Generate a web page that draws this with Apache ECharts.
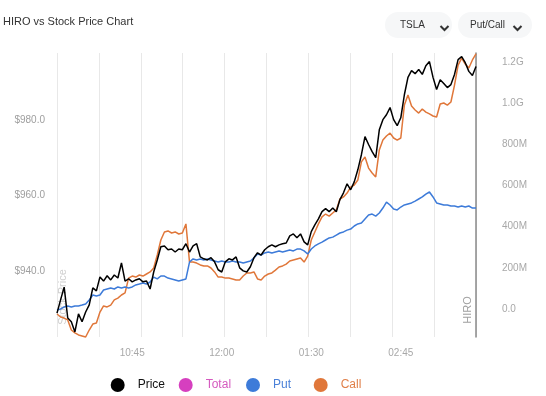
<!DOCTYPE html>
<html><head><meta charset="utf-8">
<script src="https://cdn.jsdelivr.net/npm/echarts@6/dist/echarts.min.js"></script>
<style>html,body{margin:0;padding:0;background:#fff}#c{width:546px;height:396px}</style>
</head><body><div id="c"></div>
<script>
// ---- data ----
const priceData = [928.8, 932.3, 935.7, 927.5, 926.5, 923.8, 928.6, 926.5, 929.1, 931.0,
935.5, 934.7, 938.4, 937.3, 938.7, 937.6, 938.9, 938.1, 942.1, 937.3,
937.9, 937.1, 937.6, 937.9, 937.1, 937.3, 935.2, 939.7, 942.9, 946.4,
946.6, 945.6, 945.8, 945.0, 945.8, 945.6, 947.2, 945.0, 946.6, 947.2,
943.7, 943.2, 942.9, 943.5, 942.4, 940.3, 939.7, 942.4, 943.2, 942.9,
943.7, 940.8, 940.0, 939.7, 941.1, 943.5, 944.8, 944.2, 945.6, 946.4,
946.9, 946.4, 946.9, 947.2, 947.4, 949.3, 949.8, 948.8, 949.8, 947.7,
946.9, 950.4, 952.2, 953.8, 955.7, 956.5, 955.7, 956.7, 955.7, 958.9,
960.7, 963.1, 961.5, 963.6, 966.8, 970.8, 975.6, 973.5, 971.6, 970.0,
977.4, 980.1, 981.4, 983.3, 980.1, 978.5, 980.6, 986.7, 991.3, 993.1,
992.3, 993.4, 992.1, 994.4, 995.5, 991.3, 988.1, 990.7, 989.7, 988.6,
989.4, 992.1, 996.0, 996.8, 995.2, 992.9, 991.8, 994.2];

// HIRO values in millions
const callData = [-24, -39, -44, -53, -102, -116, -126, -131, -136, -102,
-73, -68, -15, 15, 10, 19, 44, 53, 68, 78,
150, 160, 155, 165, 160, 170, 180, 199, 262, 335,
374, 379, 369, 374, 364, 369, 413, 228, 228, 223,
214, 209, 209, 199, 180, 155, 155, 150, 150, 146,
141, 141, 160, 175, 175, 180, 146, 141, 160, 170,
175, 189, 204, 209, 218, 233, 238, 243, 248, 228,
257, 335, 374, 413, 447, 461, 451, 466, 481, 534,
544, 563, 592, 602, 626, 714, 738, 684, 660, 641,
772, 820, 840, 854, 830, 820, 830, 990, 1039, 985,
966, 951, 971, 956, 947, 937, 932, 995, 1000, 990,
1005, 1087, 1184, 1218, 1189, 1170, 1209, 1238];

const putData = [-5, 0, 10, 15, 10, 15, 15, 19, 24, 44,
68, 63, 68, 92, 97, 102, 97, 107, 102, 107,
102, 107, 117, 121, 126, 121, 131, 155, 146, 160,
160, 150, 146, 141, 136, 141, 146, 228, 243, 238,
243, 238, 243, 238, 233, 228, 233, 228, 228, 233,
228, 228, 223, 228, 233, 248, 267, 262, 272, 277,
272, 277, 282, 277, 282, 286, 282, 291, 291, 282,
267, 291, 306, 316, 325, 335, 345, 349, 359, 369,
374, 383, 388, 403, 413, 417, 437, 456, 461, 451,
466, 490, 519, 505, 485, 481, 495, 505, 510, 515,
524, 534, 544, 558, 568, 544, 515, 510, 505, 505,
500, 500, 495, 500, 495, 500, 490, 490];

const totalData = [];

const seriesNames = ['Price', 'Total', 'Put', 'Call'];
const tickLabels = ['10:45', '12:00', '01:30', '02:45'];
const priceTicks = [940, 960, 980];
const hiroTicks = [0, 200, 400, 600, 800, 1000, 1200];

// time categories (3-minute bars, with a data gap after noon)
const times = [];
let mins = 9 * 60 + 42;
for (let i = 0; i < priceData.length; i++) {
  if (i === 47) mins += 15;
  const h = Math.floor(mins / 60), m = mins % 60;
  const h12 = ((h + 11) % 12) + 1;
  times.push(String(h12).padStart(2, '0') + ':' + String(m).padStart(2, '0'));
  mins += 3;
}

const FONT = '"Liberation Sans", Arial, Helvetica, sans-serif';
const C_PRICE = '#000000', C_TOTAL = '#d63fbf', C_PUT = '#3d7bd9', C_CALL = '#e0773a';
const legendText = ['#111111', '#d55abf', '#4a80d8', '#e0804a'];
const legendLeft = [105.7, 173.7, 241, 308.7];

const chart = echarts.init(document.getElementById('c'), null, {renderer: 'canvas'});
chart.setOption({
  animation: false,
  textStyle: {fontFamily: FONT},
  grid: [
    {left: 57, right: 70, top: 44.6, height: 301.7},
    {left: 57, right: 70, top: 20.6, height: 329.6},
    {left: 57, right: 70, top: 53, bottom: 59}
  ],
  xAxis: [
    {gridIndex: 0, type: 'category', data: times, boundaryGap: false, show: false},
    {gridIndex: 1, type: 'category', data: times, boundaryGap: false, show: false},
    {gridIndex: 2, type: 'category', data: times, boundaryGap: false,
      axisLine: {show: false}, axisTick: {show: false}, splitLine: {show: false},
      axisLabel: {interval: (i, v) => tickLabels.includes(v), color: '#a8a8a8', fontSize: 10, margin: 11}},
    {gridIndex: 2, type: 'value', min: 0, max: 10, interval: 1, position: 'top',
      axisLine: {show: false}, axisTick: {show: false}, axisLabel: {show: false},
      splitLine: {show: true, lineStyle: {color: '#e8e8e8', width: 1}}}
  ],
  yAxis: [
    {gridIndex: 0, type: 'value', min: 920, max: 1000, interval: 20, position: 'left',
      axisLine: {show: false}, axisTick: {show: false}, splitLine: {show: false},
      axisLabel: {color: '#9e9e9e', fontSize: 10, margin: 12,
        formatter: v => priceTicks.includes(v) ? '$' + v.toFixed(1) : ''}},
    {gridIndex: 1, type: 'value', min: -200, max: 1400, interval: 200, position: 'right',
      axisLine: {show: false}, axisTick: {show: false}, splitLine: {show: false},
      axisLabel: {color: '#a8a8a8', fontSize: 10, margin: 26,
        formatter: v => {
          if (!hiroTicks.includes(v)) return '';
          if (v === 0) return '0.0';
          if (v >= 1000) return (v / 1000).toFixed(1) + 'G';
          return v + 'M';
        }}},
    {gridIndex: 2, type: 'value', min: 0, max: 1, position: 'right',
      axisLine: {show: true, onZero: false, lineStyle: {color: '#8a8a8a', width: 1.5}},
      axisTick: {show: false}, axisLabel: {show: false}, splitLine: {show: false}}
  ],
  legend: seriesNames.map((n, i) => ({
    left: legendLeft[i], top: 373, itemWidth: 14, itemHeight: 14, icon: 'circle',
    textStyle: {fontSize: 12, padding: [0, 0, 0, 8], color: legendText[i]},
    data: [n]
  })),
  graphic: [
    {type: 'text', x: 3, y: 22, style: {text: 'HIRO vs Stock Price Chart', fontSize: 11, fontFamily: FONT, fill: '#333', align: 'left', verticalAlign: 'middle'}},
    {type: 'rect', shape: {x: 385, y: 12, width: 67, height: 26, r: 13}, style: {fill: '#f6f7f8'}},
    {type: 'rect', shape: {x: 458, y: 12, width: 74, height: 26, r: 13}, style: {fill: '#f6f7f8'}},
    {type: 'text', x: 400, y: 25.5, style: {text: 'TSLA', fontSize: 10, fontFamily: FONT, fill: '#333', align: 'left', verticalAlign: 'middle'}},
    {type: 'text', x: 470, y: 25.5, style: {text: 'Put/Call', fontSize: 10, fontFamily: FONT, fill: '#333', align: 'left', verticalAlign: 'middle'}},
    {type: 'polyline', shape: {points: [[440.5, 26], [444.5, 30], [448.5, 26]]}, style: {stroke: '#333', lineWidth: 2, fill: null}},
    {type: 'polyline', shape: {points: [[513.5, 26], [517.5, 30], [521.5, 26]]}, style: {stroke: '#333', lineWidth: 2, fill: null}},
    {type: 'text', x: 63, y: 297, rotation: Math.PI / 2, z: -1, style: {text: 'Stock Price', fontSize: 11, fontFamily: FONT, fill: '#cfcfcf', align: 'center', verticalAlign: 'middle'}},
    {type: 'text', x: 468, y: 310, rotation: Math.PI / 2, z: -1, style: {text: 'HIRO', fontSize: 11, fontFamily: FONT, fill: '#a0a0a0', align: 'center', verticalAlign: 'middle'}}
  ],
  series: [
    {name: 'Price', type: 'line', xAxisIndex: 0, yAxisIndex: 0, data: priceData, showSymbol: false, symbol: 'none',
      itemStyle: {color: C_PRICE}, lineStyle: {color: C_PRICE, width: 1.5}, z: 4},
    {name: 'Total', type: 'line', xAxisIndex: 1, yAxisIndex: 1, data: totalData, showSymbol: false, symbol: 'none',
      itemStyle: {color: C_TOTAL}, lineStyle: {color: C_TOTAL, width: 1.5}},
    {name: 'Put', type: 'line', xAxisIndex: 1, yAxisIndex: 1, data: putData, showSymbol: false, symbol: 'none',
      itemStyle: {color: C_PUT}, lineStyle: {color: C_PUT, width: 1.5}, z: 3},
    {name: 'Call', type: 'line', xAxisIndex: 1, yAxisIndex: 1, data: callData, showSymbol: false, symbol: 'none',
      itemStyle: {color: C_CALL}, lineStyle: {color: C_CALL, width: 1.5}, z: 2}
  ]
});
</script>
</body></html>
